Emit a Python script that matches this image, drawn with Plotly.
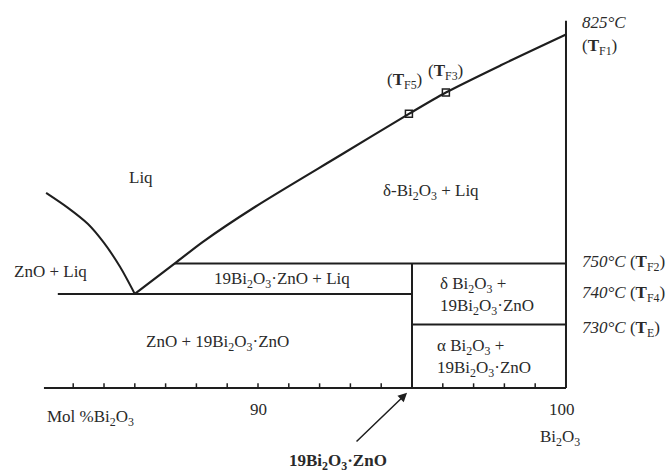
import plotly.graph_objects as go

# Bi2O3-rich side of the ZnO-Bi2O3 phase diagram (composition in mol% Bi2O3, temperature in °C)
liquidus_x = [86.0, 87.3, 88.2, 89.9, 92.7, 94.9, 96.1, 97.9, 100.0]
liquidus_T = [740, 750, 757, 768.5, 785.6, 799, 806, 815, 825]

zno_liquidus_x = [83.12, 83.83, 84.48, 85.0, 85.52, 86.0]
zno_liquidus_T = [773.1, 768.2, 762.9, 756.7, 748.9, 740]

marker_x = [94.9, 96.1]
marker_T = [799, 806]
marker_names = ["(<b>T</b><sub>F5</sub>)", "(<b>T</b><sub>F3</sub>)"]

T_melt = 825        # T_F1
T_peritectic = 750  # T_F2
T_eutectic = 740    # T_F4
T_transition = 730  # T_E
T_floor = 709.2
T_top = 829.5

x_left = 83.05
x_eutectic_start = 83.5
x_compound = 95.0
x_pure = 100.0

tick_x = list(range(84, 100))

FONT = "Liberation Serif"
INK = "#1e1e1e"
TEXT = "#2a2a2a"
FS = 17

fig = go.Figure()

def seg(xs, ys, width=2.0, shape="linear"):
    fig.add_trace(go.Scatter(x=xs, y=ys, mode="lines",
                             line=dict(color=INK, width=width, shape=shape, smoothing=0.8),
                             hoverinfo="skip", showlegend=False))

# liquidus curves
seg(liquidus_x, liquidus_T, 2.2, "spline")
seg(zno_liquidus_x, zno_liquidus_T, 2.0, "spline")

# invariant lines
seg([liquidus_x[1], x_pure], [T_peritectic, T_peritectic])
seg([x_eutectic_start, x_compound], [T_eutectic, T_eutectic])
seg([x_compound, x_pure], [T_transition, T_transition])

# compound line and pure Bi2O3 edge
seg([x_compound, x_compound], [T_peritectic, T_floor])
seg([x_pure, x_pure], [T_floor, T_top])

# composition axis with small ticks
seg([x_left, x_pure], [T_floor, T_floor])
fig.add_trace(go.Scatter(x=tick_x, y=[T_floor + 0.6] * len(tick_x), mode="markers",
                         marker=dict(symbol="line-ns-open", size=4, color=INK,
                                     line=dict(color=INK, width=1.5)),
                         hoverinfo="skip", showlegend=False))
fig.add_trace(go.Scatter(x=[x_pure], y=[T_eutectic], mode="markers",
                         marker=dict(symbol="line-ns-open", size=4, color=INK,
                                     line=dict(color=INK, width=1.5)),
                         hoverinfo="skip", showlegend=False))

# measured points on the liquidus
fig.add_trace(go.Scatter(x=marker_x, y=marker_T, mode="markers",
                         marker=dict(symbol="square-open", size=7, color=INK,
                                     line=dict(color=INK, width=1.5)),
                         hoverinfo="skip", showlegend=False))

def label(x, y, text, size=FS, xanchor="center", color=TEXT, align="center"):
    fig.add_annotation(x=x, y=y, xref="x", yref="y", text=text, showarrow=False,
                       xanchor=xanchor, yanchor="middle", align=align,
                       font=dict(family=FONT, size=size, color=color))

B = "Bi<sub>2</sub>O<sub>3</sub>"
C = "19" + B + "·ZnO"

# phase fields
label(86.2, 778.3, "Liq")
label(95.62, 773.4, "δ-" + B + " + Liq")
label(83.25, 747.2, "ZnO + Liq")
label(90.78, 744.6, C + " + Liq")
label(95.85, 739.4, "δ " + B + " +<br>" + C, xanchor="left", align="left")
label(88.67, 724.0, "ZnO + " + C)
label(95.75, 719.0, "α " + B + " +<br>" + C, xanchor="left", align="left")

# marker labels
label(94.77, 809.8, marker_names[0])
label(96.1, 812.7, marker_names[1])

# temperature labels on the right
label(100.45, 829.1, "<i>825°C</i>", xanchor="left")
label(100.45, 820.9, "(<b>T</b><sub>F1</sub>)", xanchor="left")
label(100.45, 750.2, "<i>750°C</i> (<b>T</b><sub>F2</sub>)", xanchor="left")
label(100.45, 740.0, "<i>740°C</i> (<b>T</b><sub>F4</sub>)", xanchor="left")
label(100.45, 728.5, "<i>730°C</i> (<b>T</b><sub>E</sub>)", xanchor="left")

# composition axis labels
label(84.55, 699.4, "Mol %" + B)
label(90.0, 702.0, "90")
label(99.87, 702.0, "100")
label(99.8, 692.8, B)

# compound pointer
fig.add_annotation(x=94.84, y=707.6, ax=93.15, ay=691.2, xref="x", yref="y",
                   axref="x", ayref="y", text="", showarrow=True,
                   arrowhead=2, arrowsize=1.2, arrowwidth=1.5, arrowcolor=INK)
label(92.6, 685.0, "<b>19Bi<sub>2</sub>O<sub>3</sub>·ZnO</b>")

fig.update_layout(
    width=670, height=473,
    margin=dict(l=0, r=0, t=0, b=0),
    paper_bgcolor="white", plot_bgcolor="white",
    xaxis=dict(range=[81.623, 103.377], visible=False, fixedrange=True),
    yaxis=dict(range=[681.33, 836.31], visible=False, fixedrange=True),
    showlegend=False,
)

fig.write_html("out.html")
